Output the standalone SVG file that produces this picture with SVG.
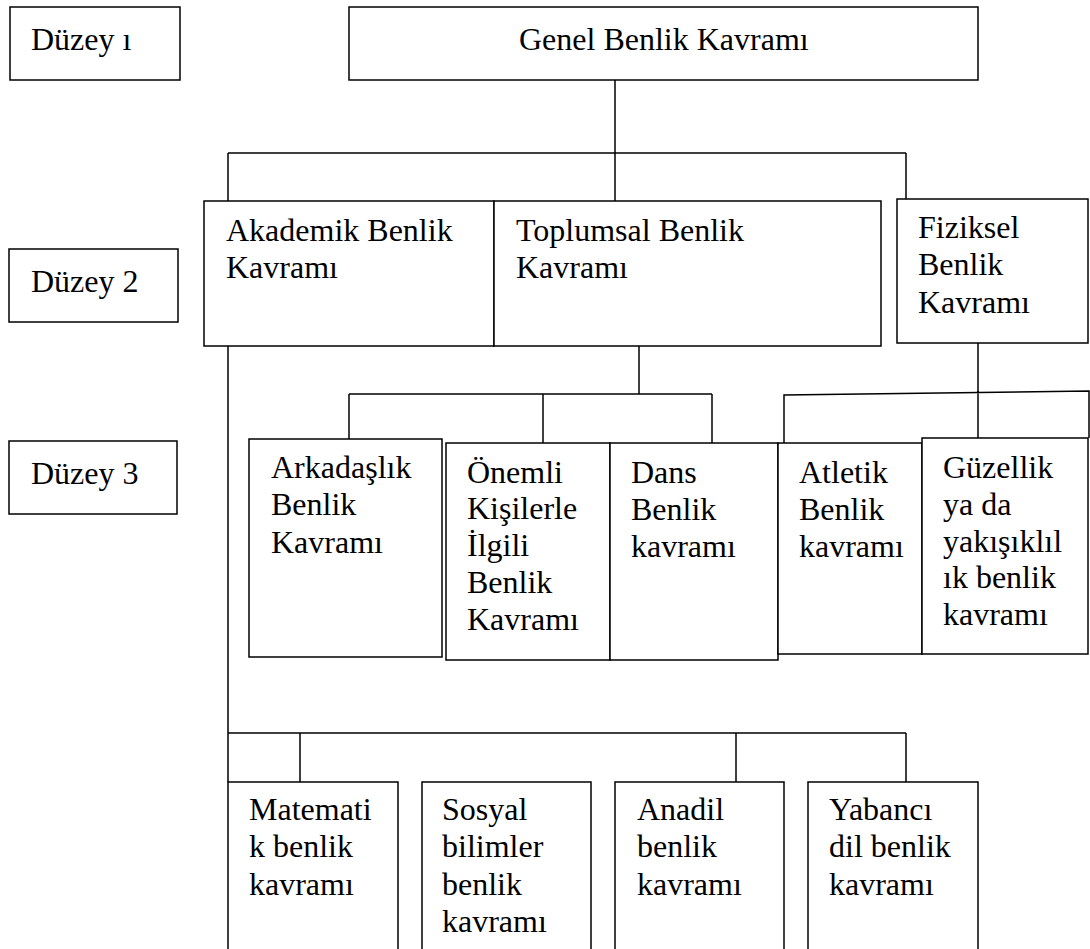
<svg xmlns="http://www.w3.org/2000/svg" width="1090" height="949" viewBox="0 0 1090 949">
<style>
.b{fill:#fff;stroke:#000;stroke-width:1.5}
.c{fill:none;stroke:#000;stroke-width:1.5}
</style>
<rect width="1090" height="949" fill="#fff"/>
<g id="connectors">
<path class="c" d="M615,80V201M228,153H906M228,153V201M906,153V199"/>
<path class="c" d="M639,346V394M349,394H712M349,394V443M543,394V443M712,394V443"/>
<path class="c" d="M978,343V442M784,443V395L1089,391V438"/>
<path class="c" d="M228,346V782M228,733H906M300,733V782M736,733V782M906,733V782"/>
</g>
<g id="level1"><rect class="b" x="10" y="7" width="170" height="73"/><text x="31" y="50" font-size="32" font-family="Times New Roman">Düzey ı</text></g>
<g id="level2"><rect class="b" x="9" y="249" width="169" height="73"/><text x="31" y="292" font-size="32" font-family="Times New Roman">Düzey 2</text></g>
<g id="level3"><rect class="b" x="9" y="441" width="168" height="73"/><text x="31" y="484" font-size="32" font-family="Times New Roman">Düzey 3</text></g>
<g id="genel"><rect class="b" x="349" y="7" width="629" height="73"/><text x="519" y="50" font-size="32" font-family="Times New Roman">Genel Benlik Kavramı</text></g>
<g id="akademik"><rect class="b" x="204" y="201" width="290" height="145"/><text x="226" y="241" font-size="32" font-family="Times New Roman"><tspan x="226">Akademik Benlik</tspan><tspan x="226" dy="37">Kavramı</tspan></text></g>
<g id="toplumsal"><rect class="b" x="494" y="201" width="387" height="145"/><text x="516" y="241" font-size="32" font-family="Times New Roman"><tspan x="516">Toplumsal Benlik</tspan><tspan x="516" dy="37">Kavramı</tspan></text></g>
<g id="fiziksel"><rect class="b" x="897" y="199" width="191" height="144"/><text x="918" y="238" font-size="32" font-family="Times New Roman"><tspan x="918">Fiziksel</tspan><tspan x="918" dy="37">Benlik</tspan><tspan x="918" dy="38">Kavramı</tspan></text></g>
<g id="arkadaslik"><rect class="b" x="249" y="439" width="193" height="218"/><text x="271" y="478" font-size="32" font-family="Times New Roman"><tspan x="271">Arkadaşlık</tspan><tspan x="271" dy="37">Benlik</tspan><tspan x="271" dy="38">Kavramı</tspan></text></g>
<g id="onemli"><rect class="b" x="446" y="443" width="164" height="217"/><text x="467" y="483" font-size="32" font-family="Times New Roman"><tspan x="467">Önemli</tspan><tspan x="467" dy="36">Kişilerle</tspan><tspan x="467" dy="37">İlgili</tspan><tspan x="467" dy="37">Benlik</tspan><tspan x="467" dy="37">Kavramı</tspan></text></g>
<g id="dans"><rect class="b" x="610" y="443" width="168" height="217"/><text x="631" y="483" font-size="32" font-family="Times New Roman"><tspan x="631">Dans</tspan><tspan x="631" dy="37">Benlik</tspan><tspan x="631" dy="37">kavramı</tspan></text></g>
<g id="atletik"><rect class="b" x="778" y="443" width="144" height="211"/><text x="799" y="483" font-size="32" font-family="Times New Roman"><tspan x="799">Atletik</tspan><tspan x="799" dy="37">Benlik</tspan><tspan x="799" dy="37">kavramı</tspan></text></g>
<g id="guzellik"><rect class="b" x="922" y="438" width="166" height="216"/><text x="943" y="478" font-size="32" font-family="Times New Roman"><tspan x="943">Güzellik</tspan><tspan x="943" dy="37">ya da</tspan><tspan x="943" dy="37">yakışıklıl</tspan><tspan x="943" dy="36">ık benlik</tspan><tspan x="943" dy="37">kavramı</tspan></text></g>
<g id="matematik"><rect class="b" x="228" y="782" width="170" height="180"/><text x="249" y="820" font-size="32" font-family="Times New Roman"><tspan x="249">Matemati</tspan><tspan x="249" dy="37">k benlik</tspan><tspan x="249" dy="38">kavramı</tspan></text></g>
<g id="sosyal"><rect class="b" x="422" y="782" width="169" height="180"/><text x="442" y="820" font-size="32" font-family="Times New Roman"><tspan x="442">Sosyal</tspan><tspan x="442" dy="37">bilimler</tspan><tspan x="442" dy="38">benlik</tspan><tspan x="442" dy="37">kavramı</tspan></text></g>
<g id="anadil"><rect class="b" x="615" y="782" width="169" height="180"/><text x="637" y="820" font-size="32" font-family="Times New Roman"><tspan x="637">Anadil</tspan><tspan x="637" dy="37">benlik</tspan><tspan x="637" dy="38">kavramı</tspan></text></g>
<g id="yabanci"><rect class="b" x="808" y="782" width="170" height="180"/><text x="829" y="820" font-size="32" font-family="Times New Roman"><tspan x="829">Yabancı</tspan><tspan x="829" dy="37">dil benlik</tspan><tspan x="829" dy="38">kavramı</tspan></text></g>
</svg>
